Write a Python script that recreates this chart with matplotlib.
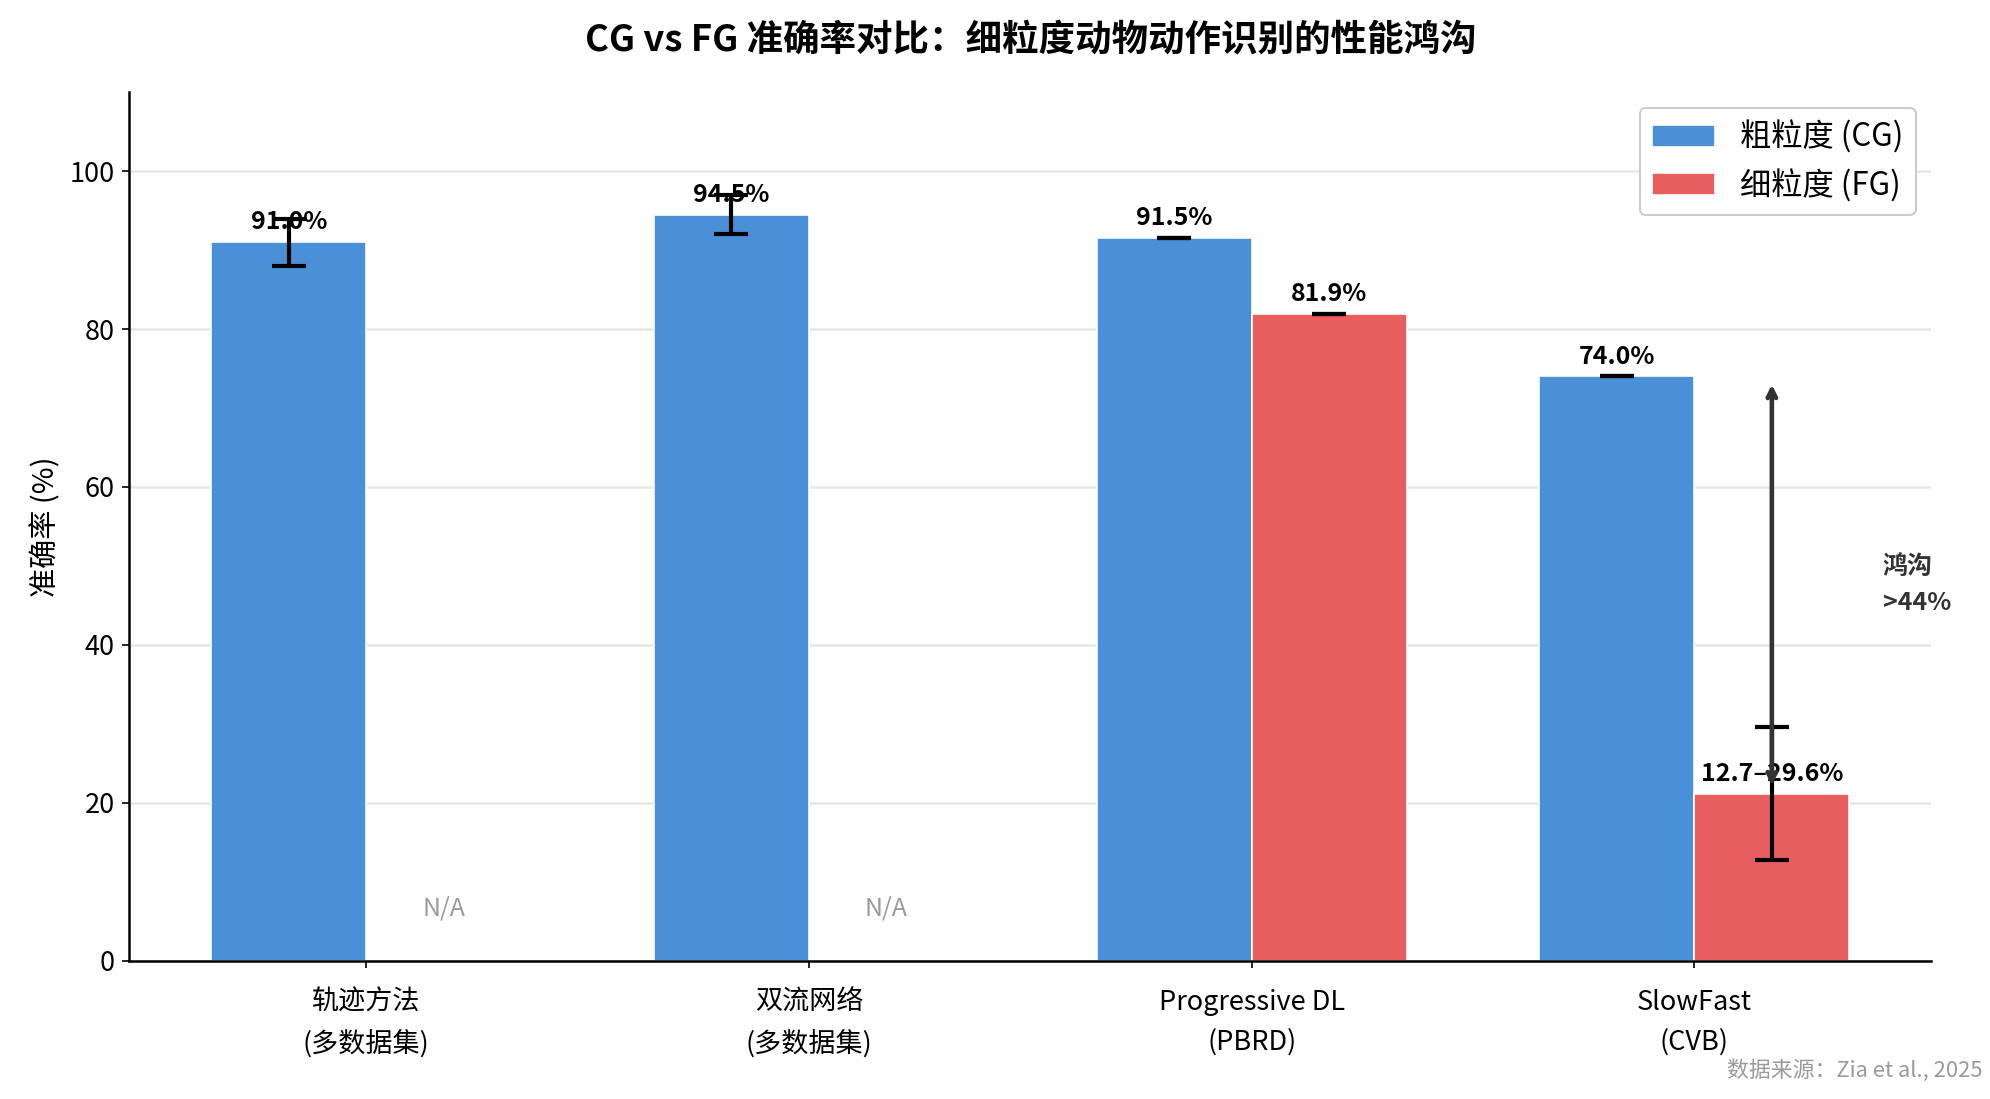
import matplotlib
matplotlib.use("Agg")
import matplotlib.pyplot as plt
import numpy as np

plt.rcParams['font.family'] = ['Noto Sans CJK SC', 'DejaVu Sans']
plt.rcParams['axes.unicode_minus'] = False

# data
methods = ['轨迹方法\n(多数据集)', '双流网络\n(多数据集)', 'Progressive DL\n(PBRD)', 'SlowFast\n(CVB)']
cg_acc = [91.0, 94.5, 91.5, 74.0]
cg_err = [3.0, 2.5, 0.0, 0.0]
fg_acc = [0.0, 0.0, 81.9, 21.15]
fg_err_low = [0.0, 0.0, 0.0, 8.45]
fg_err_high = [0.0, 0.0, 0.0, 8.45]
fg_has = [False, False, True, True]
cg_labels = ['91.0%', '94.5%', '91.5%', '74.0%']
fg_labels = ['', '', '81.9%', '12.7–29.6%']

BLUE = '#4A90D9'
RED = '#E85D5D'

x = np.arange(len(methods))
w = 0.35

fig = plt.figure(figsize=(13.273, 7.327), dpi=150)
ax = fig.add_axes([0.065, 0.126, 0.905, 0.79])

ax.bar(x - w/2, cg_acc, w, yerr=cg_err, capsize=8, color=BLUE, edgecolor='white',
       linewidth=0.8, label='粗粒度 (CG)', error_kw=dict(lw=2, capthick=2, ecolor='black'))

fg_x = x[np.array(fg_has)] + w/2
fg_v = np.array(fg_acc)[np.array(fg_has)]
fg_e = np.array([fg_err_low, fg_err_high])[:, np.array(fg_has)]
ax.bar(fg_x, fg_v, w, yerr=fg_e, capsize=8, color=RED, edgecolor='white',
       linewidth=0.8, label='细粒度 (FG)', error_kw=dict(lw=2, capthick=2, ecolor='black'))

for i in range(len(methods)):
    ax.text(x[i] - w/2, cg_acc[i] + 1, cg_labels[i], ha='center', va='bottom',
            fontsize=12, fontweight='bold')
    if fg_has[i]:
        ax.text(x[i] + w/2, fg_acc[i] + 1, fg_labels[i], ha='center', va='bottom',
                fontsize=12, fontweight='bold')
    else:
        ax.text(x[i] + w/2, 5, 'N/A', ha='center', va='bottom', fontsize=12, color='#999999')

# gap arrow
ax.annotate('', xy=(x[3] + w/2, cg_acc[3] - 0.5), xytext=(x[3] + w/2, fg_acc[3] + 0.5),
            arrowprops=dict(arrowstyle='<->', color='#333333', lw=2.2))
ax.text(x[3] + w/2 + 0.25, (cg_acc[3] + fg_acc[3]) / 2, '鸿沟\n>44%', ha='left', va='center',
        fontsize=12, fontweight='bold', color='#333333', linespacing=1.6)

ax.set_xticks(x)
ax.set_xticklabels(methods, fontsize=13, linespacing=1.6)
ax.tick_params(axis='x', pad=10)
ax.tick_params(axis='y', labelsize=13)
ax.set_ylim(0, 110)
ax.set_ylabel('准确率 (%)', fontsize=14, fontweight='medium')
ax.set_title('CG vs FG 准确率对比：细粒度动物动作识别的性能鸿沟', fontsize=17.5,
             fontweight='bold', pad=20)
ax.yaxis.grid(True, color='#e6e6e6', lw=1.2)
ax.set_axisbelow(True)
ax.spines['top'].set_visible(False)
ax.spines['right'].set_visible(False)
ax.spines['left'].set_linewidth(1.2)
ax.spines['bottom'].set_linewidth(1.2)

ax.legend(loc='upper right', fontsize=15, framealpha=1, edgecolor='#cccccc')

fig.text(0.996, 0.016, '数据来源：Zia et al., 2025', ha='right', va='bottom',
         fontsize=10.5, color='#999999')

fig.savefig('out.png', dpi=150)
